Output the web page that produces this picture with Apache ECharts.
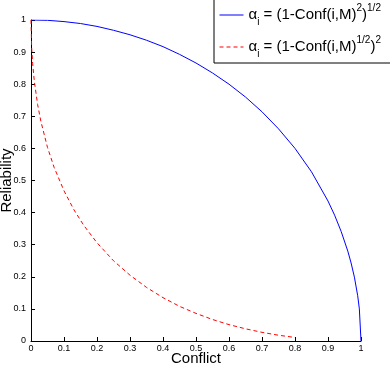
<!DOCTYPE html>
<html>
<head>
<meta charset="utf-8">
<script src="https://cdn.jsdelivr.net/npm/echarts@6/dist/echarts.min.js"></script>
<style>html,body{margin:0;padding:0;background:#fff;}#c{width:390px;height:366px;}</style>
</head>
<body>
<div id="c"></div>
<script>
// Values
var blueX = [0, 0.05, 0.1, 0.15, 0.2, 0.25, 0.3, 0.35, 0.4, 0.45, 0.5, 0.55, 0.6, 0.65, 0.7, 0.75, 0.8, 0.85, 0.9, 0.92, 0.94, 0.96, 0.97, 0.98, 0.99, 0.995, 1];
var blueY = [1, 0.999, 0.995, 0.989, 0.980, 0.968, 0.954, 0.937, 0.917, 0.893, 0.866, 0.835, 0.800, 0.760, 0.714, 0.661, 0.600, 0.527, 0.436, 0.392, 0.341, 0.280, 0.243, 0.199, 0.141, 0.100, 0];
var redX = [0, 0.002, 0.005, 0.01, 0.02, 0.03, 0.05, 0.07, 0.1, 0.13, 0.16, 0.2, 0.25, 0.3, 0.35, 0.4, 0.45, 0.5, 0.55, 0.6, 0.65, 0.7, 0.75, 0.8];
var redY = [1, 0.913, 0.864, 0.810, 0.737, 0.684, 0.603, 0.541, 0.468, 0.409, 0.360, 0.306, 0.250, 0.205, 0.167, 0.135, 0.108, 0.086, 0.067, 0.051, 0.038, 0.027, 0.018, 0.011];
var xTicks = ['0', '0.1', '0.2', '0.3', '0.4', '0.5', '0.6', '0.7', '0.8', '0.9', '1'];
var yTicks = ['0', '0.1', '0.2', '0.3', '0.4', '0.5', '0.6', '0.7', '0.8', '0.9', '1'];
var seriesNames = ['blue', 'red'];

function pairs(xs, ys) { return xs.map(function (x, i) { return [x, ys[i]]; }); }
function tickLabel(list) { return function (v) { var i = Math.round(v * 10); return list[i] !== undefined ? list[i] : ''; }; }

var font = 'Liberation Sans, Arial, Helvetica, sans-serif';
var chart = echarts.init(document.getElementById('c'), null, { renderer: 'canvas' });
chart.setOption({
  animation: false,
  backgroundColor: '#fff',
  grid: { left: 31, right: 29, top: 20, bottom: 25, containLabel: false, outerBoundsMode: 'none' },
  legend: {
    data: seriesNames,
    orient: 'vertical',
    left: 214, top: -7,
    padding: [10, 12, 4, 5],
    itemGap: 8,
    itemWidth: 24,
    itemHeight: 1,
    backgroundColor: '#fff',
    borderColor: '#000',
    borderWidth: 1,
    itemStyle: { opacity: 0 },
    lineStyle: { width: 1 },
    formatter: function (name) {
      if (name === 'blue') return '{t|α}{sub|i}{t| = (1-Conf(i,M)}{sup|2}{t|)}{sup|1/2}';
      return '{t|α}{sub|i}{t| = (1-Conf(i,M)}{sup|1/2}{t|)}{sup|2}';
    },
    textStyle: {
      fontFamily: font, color: '#000', lineHeight: 24,
      rich: {
        t: { fontSize: 15, fontFamily: font, color: '#000', verticalAlign: 'middle', lineHeight: 24 },
        sub: { fontSize: 10, fontFamily: font, color: '#000', verticalAlign: 'bottom', lineHeight: 24 },
        sup: { fontSize: 10, fontFamily: font, color: '#000', verticalAlign: 'top', lineHeight: 24 }
      }
    }
  },
  xAxis: {
    type: 'value', min: 0, max: 1, interval: 0.1,
    name: 'Conflict', nameLocation: 'middle', nameGap: 10, nameMoveOverlap: false,
    nameTextStyle: { fontFamily: font, fontSize: 15, color: '#000' },
    axisLine: { lineStyle: { color: '#000', width: 1 } },
    axisTick: { inside: true, length: 4, lineStyle: { color: '#000' } },
    axisLabel: { formatter: tickLabel(xTicks), fontFamily: font, fontSize: 9, color: '#000', margin: 3 },
    splitLine: { show: false }
  },
  yAxis: {
    type: 'value', min: 0, max: 1, interval: 0.1,
    name: 'Reliability', nameLocation: 'middle', nameGap: 17, nameRotate: 90, nameMoveOverlap: false,
    nameTextStyle: { fontFamily: font, fontSize: 15, color: '#000' },
    axisLine: { show: true, lineStyle: { color: '#000', width: 1 } },
    axisTick: { show: true, inside: true, length: 4, lineStyle: { color: '#000' } },
    axisLabel: { formatter: tickLabel(yTicks), fontFamily: font, fontSize: 9, color: '#000', margin: 5 },
    splitLine: { show: false }
  },
  series: [
    { name: 'blue', type: 'line', data: pairs(blueX, blueY), symbol: 'none', showSymbol: false, smooth: false,
      lineStyle: { color: '#0000ff', width: 1, type: 'solid' }, itemStyle: { color: '#0000ff' } },
    { name: 'red', type: 'line', data: pairs(redX, redY), symbol: 'none', showSymbol: false, smooth: false,
      lineStyle: { color: '#ff0000', width: 1, type: [4, 3] }, itemStyle: { color: '#ff0000' } }
  ]
});
</script>
</body>
</html>
